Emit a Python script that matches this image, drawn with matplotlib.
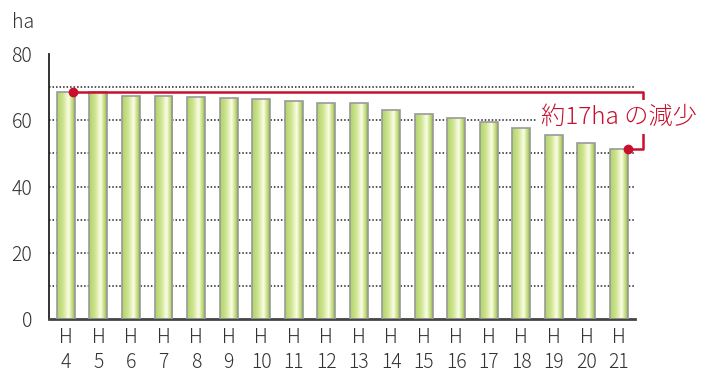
import numpy as np
import matplotlib.pyplot as plt
from matplotlib.colors import LinearSegmentedColormap

plt.rcParams['font.family'] = ['Noto Sans CJK JP', 'DejaVu Sans']
plt.rcParams['font.weight'] = 'light'

# area by year (ha), Heisei 4 - 21
years = ['4', '5', '6', '7', '8', '9', '10', '11', '12', '13',
         '14', '15', '16', '17', '18', '19', '20', '21']
area = [68.5, 68.4, 67.3, 67.3, 66.9, 66.7, 66.4, 65.8, 65.2, 65.2,
        63.1, 61.9, 60.6, 59.4, 57.8, 55.5, 53.1, 51.3]
note = '約17ha の減少'

red = '#c8102e'
bar_w = 0.55

fig = plt.figure(figsize=(7.02, 3.72), dpi=100)
ax = fig.add_axes([0.0698, 0.1425, 0.835, 0.7123])

x = np.arange(len(years))

# dotted grid every 10 ha
for g in range(10, 80, 10):
    ax.axhline(g, color='#222222', lw=1.1, ls=(0, (1, 1.3)), zorder=0)

# green cylinder-like fill for each bar
cmap = LinearSegmentedColormap.from_list('bar', [
    (0.0, '#b0d268'), (0.35, '#cfe592'), (0.65, '#fbfde6'),
    (0.88, '#bed977'), (1.0, '#8fb444')])
grad = np.linspace(0, 1, 64).reshape(1, -1)
bars = ax.bar(x, area, width=bar_w, color='none', edgecolor='#9a9a9a',
              lw=1.2, zorder=3)
for b in bars:
    im = ax.imshow(grad, cmap=cmap, aspect='auto', zorder=2,
                   extent=[b.get_x(), b.get_x() + b.get_width(), 0, b.get_height()])
    im.set_clip_path(b)

ax.set_xlim(-0.52, 17.5)
ax.set_ylim(0, 80)

# decrease bracket from H4 to H21
xa = x[0] + 0.22
xb = x[-1] + 0.29
xr = 17.75
ax.plot([xa, xr, xr, xb], [area[0], area[0], area[-1], area[-1]],
        color=red, lw=1.8, clip_on=False, zorder=5)
ax.plot([xa, xb], [area[0], area[-1]], 'o', color=red, ms=6,
        clip_on=False, zorder=6)
ax.text(17.0, 61.0, note, color=red, fontsize=17.5, ha='center', va='center',
        zorder=7, bbox=dict(facecolor='white', edgecolor='none', pad=3))

ax.set_yticks([0, 20, 40, 60, 80])
ax.set_xticks(x)
ax.set_xticklabels(['H\n' + y for y in years], linespacing=1.25)
ax.tick_params(axis='y', length=0, pad=12, labelsize=14, labelcolor='#333333')
ax.tick_params(axis='x', length=0, pad=6, labelsize=14, labelcolor='#333333')

for s in ['top', 'right']:
    ax.spines[s].set_visible(False)
ax.spines['left'].set_color('#222222')
ax.spines['left'].set_linewidth(1.3)
ax.spines['bottom'].set_color('#444444')
ax.spines['bottom'].set_linewidth(2)

fig.text(12 / 702, 1 - 22 / 372, 'ha', fontsize=14, color='#333333',
         ha='left', va='center')

fig.savefig('out.png', dpi=100)
